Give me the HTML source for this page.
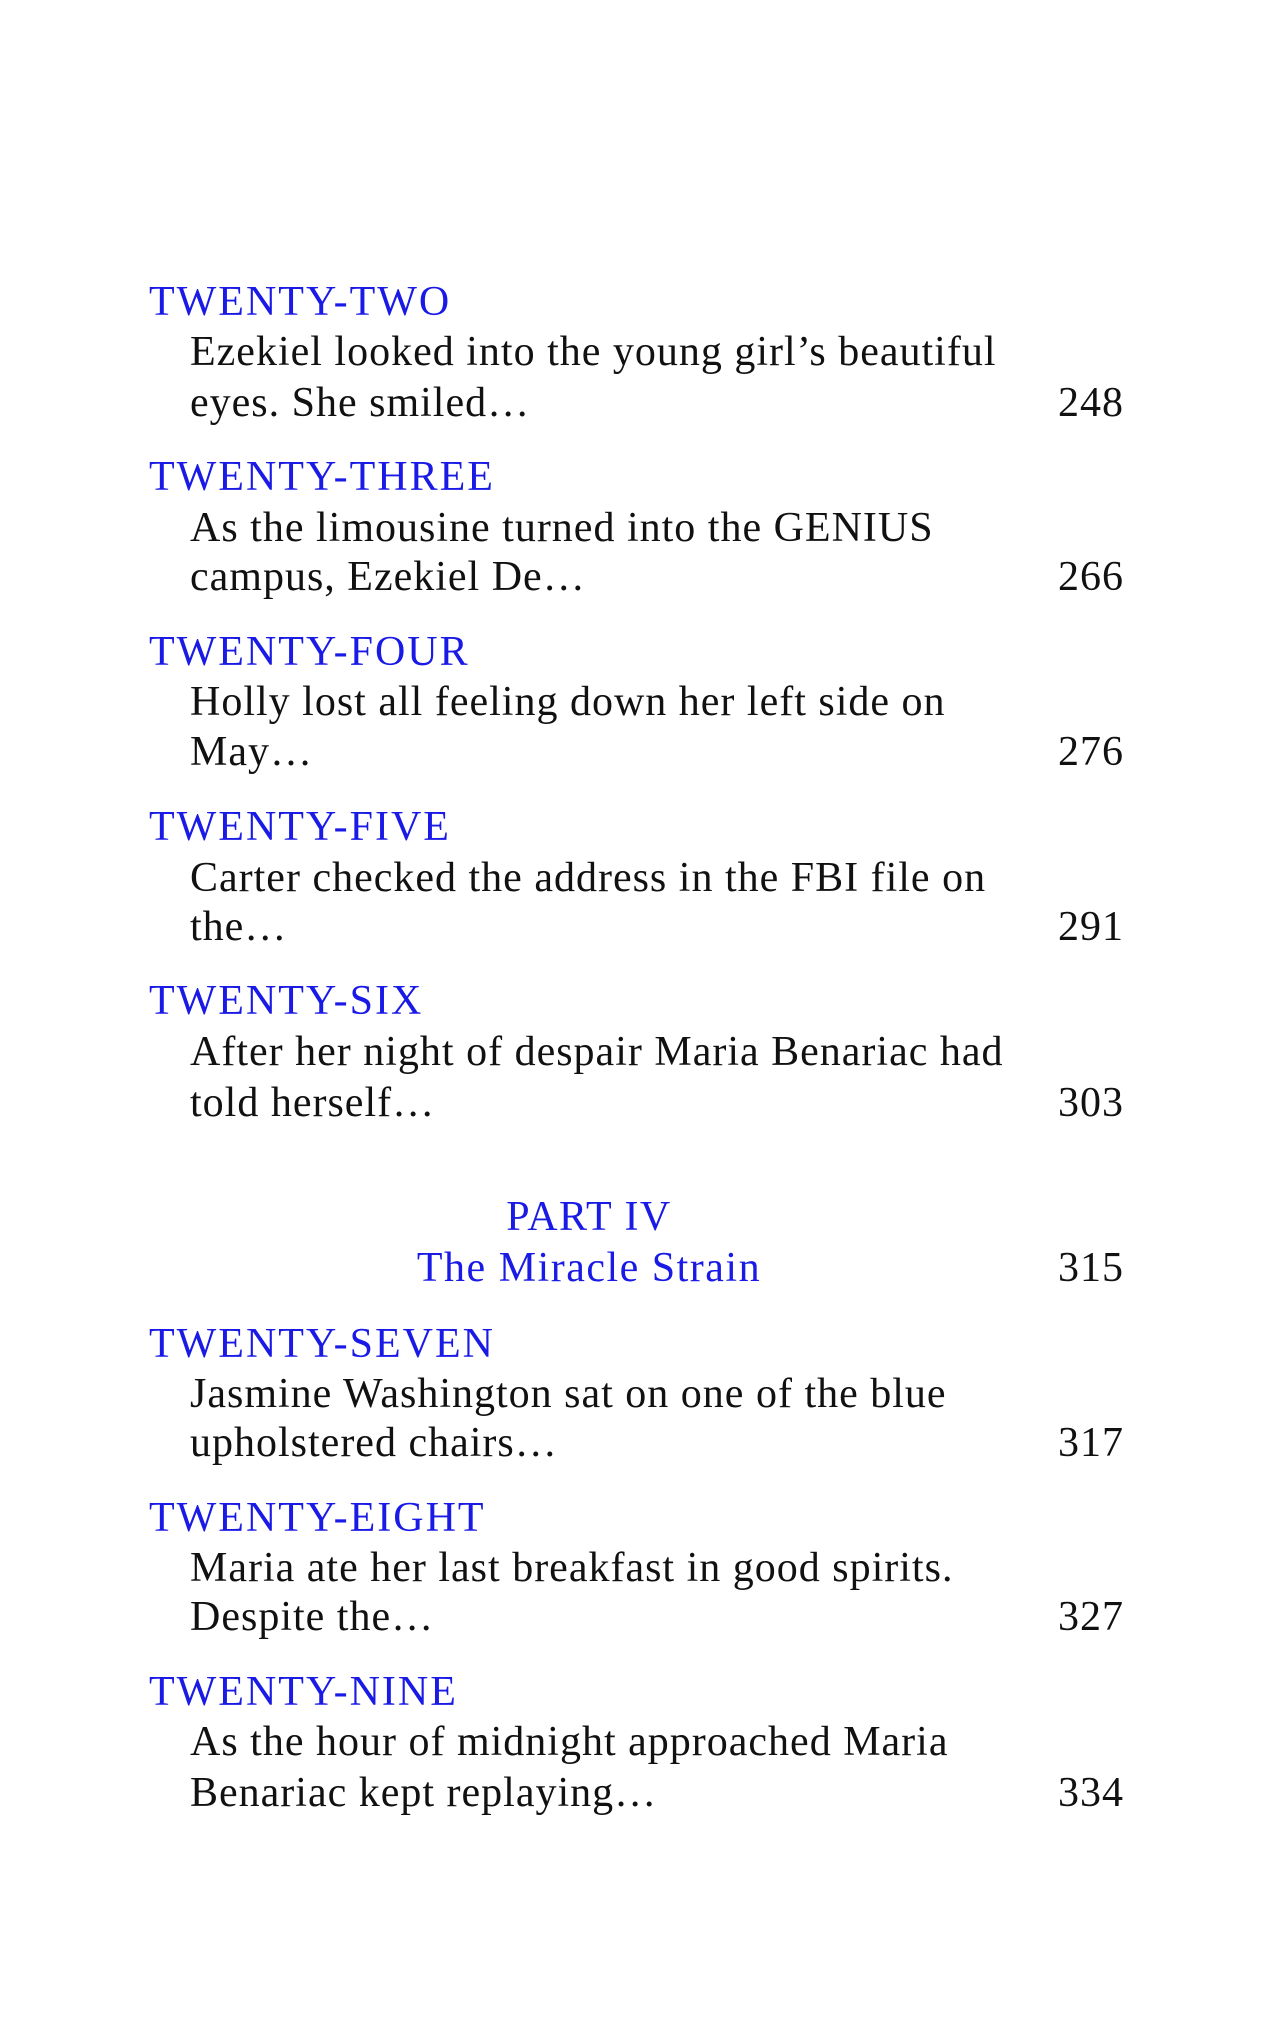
<!DOCTYPE html>
<html><head><meta charset="utf-8"><style>
html,body{margin:0;padding:0;background:#fff;}
body{width:1275px;height:2025px;position:relative;overflow:hidden;font-family:"Liberation Serif",serif;font-size:42px;color:#111;}
.l{position:absolute;line-height:50px;white-space:nowrap;margin-top:5px;}
.h{left:149px;color:#1a1ae6;letter-spacing:2px;}
.t{left:190px;letter-spacing:1px;}
.n{right:151px;letter-spacing:1px;}
.c{left:0;width:1178px;text-align:center;color:#1a1ae6;letter-spacing:1.5px;}
</style></head><body>
<div class="l h" style="top:272px">TWENTY-TWO</div>
<div class="l t" style="top:322px">Ezekiel looked into the young girl’s beautiful</div>
<div class="l t" style="top:373px">eyes. She smiled…</div>
<div class="l n" style="top:373px">248</div>

<div class="l h" style="top:447px">TWENTY-THREE</div>
<div class="l t" style="top:498px">As the limousine turned into the GENIUS</div>
<div class="l t" style="top:547px">campus, Ezekiel De…</div>
<div class="l n" style="top:547px">266</div>

<div class="l h" style="top:622px">TWENTY-FOUR</div>
<div class="l t" style="top:672px">Holly lost all feeling down her left side on</div>
<div class="l t" style="top:722px">May…</div>
<div class="l n" style="top:722px">276</div>

<div class="l h" style="top:797px">TWENTY-FIVE</div>
<div class="l t" style="top:848px">Carter checked the address in the FBI file on</div>
<div class="l t" style="top:897px">the…</div>
<div class="l n" style="top:897px">291</div>

<div class="l h" style="top:971px">TWENTY-SIX</div>
<div class="l t" style="top:1022px">After her night of despair Maria Benariac had</div>
<div class="l t" style="top:1073px">told herself…</div>
<div class="l n" style="top:1073px">303</div>

<div class="l c" style="top:1187px">PART IV</div>
<div class="l c" style="top:1238px">The Miracle Strain</div>
<div class="l n" style="top:1238px">315</div>

<div class="l h" style="top:1314px">TWENTY-SEVEN</div>
<div class="l t" style="top:1364px">Jasmine Washington sat on one of the blue</div>
<div class="l t" style="top:1413px">upholstered chairs…</div>
<div class="l n" style="top:1413px">317</div>

<div class="l h" style="top:1488px">TWENTY-EIGHT</div>
<div class="l t" style="top:1538px">Maria ate her last breakfast in good spirits.</div>
<div class="l t" style="top:1587px">Despite the…</div>
<div class="l n" style="top:1587px">327</div>

<div class="l h" style="top:1662px">TWENTY-NINE</div>
<div class="l t" style="top:1712px">As the hour of midnight approached Maria</div>
<div class="l t" style="top:1763px">Benariac kept replaying…</div>
<div class="l n" style="top:1763px">334</div>
</body></html>
